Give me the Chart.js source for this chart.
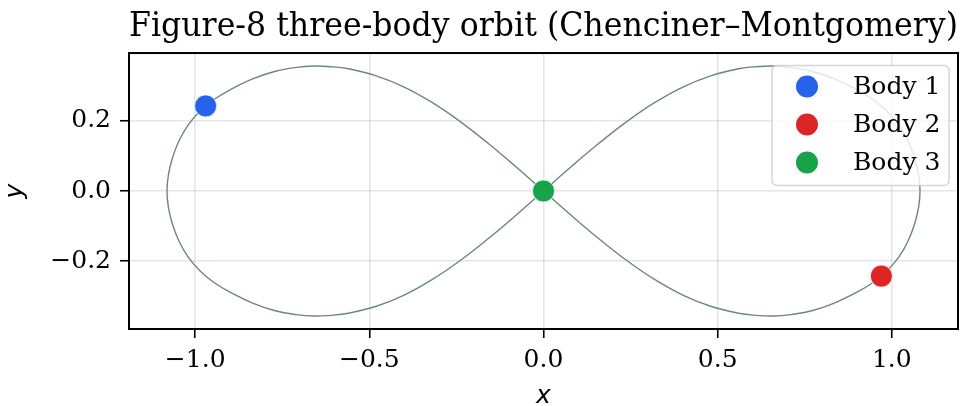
<!DOCTYPE html>
<html>
<head>
<meta charset="utf-8">
<script src="https://cdn.jsdelivr.net/npm/chart.js@4.4.1/dist/chart.umd.min.js"></script>
<style>
  html, body { margin: 0; padding: 0; background: #fff; }
  #wrap { width: 970px; height: 406px; }
</style>
</head>
<body>
<div id="wrap"><canvas id="c" width="970" height="406"></canvas></div>
<script>
// orbit path: upper-left, lower-left, upper-right, lower-right
const orbitX = [
  0, -0.08, -0.16, -0.24, -0.32, -0.40, -0.48, -0.56, -0.61, -0.66, -0.71, -0.77, -0.835, -0.90, -0.945, -0.985, -1.02, -1.047, -1.066, -1.077, -1.081,
  -1.077, -1.066, -1.047, -1.02, -0.985, -0.945, -0.90, -0.835, -0.77, -0.71, -0.66, -0.61, -0.56, -0.48, -0.40, -0.32, -0.24, -0.16, -0.08, 0,
  0.08, 0.16, 0.24, 0.32, 0.40, 0.48, 0.56, 0.61, 0.66, 0.71, 0.77, 0.835, 0.90, 0.945, 0.985, 1.02, 1.047, 1.066, 1.077, 1.081,
  1.077, 1.066, 1.047, 1.02, 0.985, 0.945, 0.90, 0.835, 0.77, 0.71, 0.66, 0.61, 0.56, 0.48, 0.40, 0.32, 0.24, 0.16, 0.08, 0
];
const orbitY = [
  0, 0.070, 0.137, 0.199, 0.253, 0.297, 0.329, 0.349, 0.355, 0.357, 0.353, 0.342, 0.320, 0.289, 0.262, 0.229, 0.189, 0.142, 0.092, 0.045, 0,
  -0.045, -0.092, -0.142, -0.189, -0.229, -0.262, -0.289, -0.320, -0.342, -0.353, -0.357, -0.355, -0.349, -0.329, -0.297, -0.253, -0.199, -0.137, -0.070, 0,
  0.070, 0.137, 0.199, 0.253, 0.297, 0.329, 0.349, 0.355, 0.357, 0.353, 0.342, 0.320, 0.289, 0.262, 0.229, 0.189, 0.142, 0.092, 0.045, 0,
  -0.045, -0.092, -0.142, -0.189, -0.229, -0.262, -0.289, -0.320, -0.342, -0.353, -0.357, -0.355, -0.349, -0.329, -0.297, -0.253, -0.199, -0.137, -0.070, 0
];

const bodyNames = ["Body 1", "Body 2", "Body 3"];
const bodyX = [-0.97, 0.97, 0.0];
const bodyY = [0.243, -0.243, 0.0];

const xTicks = [-1.0, -0.5, 0.0, 0.5, 1.0];
const yTicks = [-0.2, 0.0, 0.2];

const titleText = "Figure-8 three-body orbit (Chenciner\u2013Montgomery)";

const bodyColors = ["#2563eb", "#dc2626", "#16a34a"];
const orbitColor = "#6a8a74";
const serif = "'DejaVu Serif', serif";

function fmt(v) {
  const s = Math.abs(v).toFixed(1);
  return v < -1e-9 ? "\u2212" + s : s;
}

// 테두리 + 범례
const framePlugin = {
  id: "frame",
  afterDatasetsDraw(chart) {
    const ctx = chart.ctx;
    const bx = 772, by = 65.5, bw = 177, bh = 120;
    ctx.save();
    ctx.beginPath();
    ctx.roundRect(bx, by, bw, bh, 5);
    ctx.fillStyle = "rgba(255,255,255,0.8)";
    ctx.fill();
    ctx.strokeStyle = "rgba(204,204,204,0.8)";
    ctx.lineWidth = 1.5;
    ctx.stroke();
    ctx.font = "25px " + serif;
    ctx.textBaseline = "middle";
    ctx.textAlign = "left";
    bodyNames.forEach((name, i) => {
      const cy = by + 21 + i * 38;
      ctx.beginPath();
      ctx.arc(807, cy, 11, 0, Math.PI * 2);
      ctx.fillStyle = bodyColors[i];
      ctx.fill();
      ctx.fillStyle = "#000";
      ctx.fillText(name, 853, cy + 1);
    });
    ctx.restore();
  },
  afterDraw(chart) {
    const a = chart.chartArea;
    const ctx = chart.ctx;
    ctx.save();
    ctx.strokeStyle = "#000";
    ctx.lineWidth = 2;
    ctx.strokeRect(a.left, a.top, a.right - a.left, a.bottom - a.top);
    ctx.restore();
  },
};

const datasets = bodyNames.map((name, i) => ({
  label: name,
  data: [{ x: bodyX[i], y: bodyY[i] }],
  backgroundColor: bodyColors[i],
  borderColor: "rgba(255,255,255,0.7)",
  borderWidth: 1,
  pointRadius: 11,
  order: 0,
}));
datasets.push({
  label: "orbit",
  data: orbitX.map((x, i) => ({ x: x, y: orbitY[i] })),
  showLine: true,
  borderColor: orbitColor,
  borderWidth: 1.4,
  pointRadius: 0,
  tension: 0.4,
  fill: false,
  order: 1,
});

new Chart(document.getElementById("c").getContext("2d"), {
  type: "scatter",
  data: { datasets: datasets },
  options: {
    responsive: false,
    animation: false,
    devicePixelRatio: 1,
    layout: { padding: { left: 0, right: 8, top: 0, bottom: 0 } },
    plugins: {
      legend: { display: false },
      tooltip: { enabled: false },
      title: {
        display: true,
        text: titleText,
        fullSize: false,
        color: "#000",
        font: { family: serif, size: 32.7, weight: "normal", lineHeight: 1.2 },
        padding: { top: 7.5, bottom: 6.3 },
      },
    },
    scales: {
      x: {
        type: "linear",
        min: -1.19,
        max: 1.19,
        afterBuildTicks: (s) => { s.ticks = xTicks.map((v) => ({ value: v })); },
        afterFit: (s) => { s.height = 77; },
        ticks: {
          color: "#000",
          padding: 7,
          font: { family: serif, size: 25 },
          callback: (v) => fmt(v),
          maxRotation: 0,
        },
        grid: {
          color: "rgba(0,0,0,0.1)",
          lineWidth: 1.5,
          tickColor: "#000",
          tickWidth: 1.6,
          tickLength: 9,
        },
        border: { display: false },
        title: {
          display: true,
          text: "x",
          color: "#000",
          font: { family: "'DejaVu Sans', sans-serif", size: 25, style: "italic", lineHeight: 0.8 },
          padding: { top: 0, bottom: 0 },
        },
      },
      y: {
        type: "linear",
        min: -0.394,
        max: 0.394,
        afterBuildTicks: (s) => { s.ticks = yTicks.map((v) => ({ value: v })); },
        afterFit: (s) => { s.width = 129; },
        ticks: {
          color: "#000",
          padding: 9,
          font: { family: serif, size: 25 },
          callback: (v) => fmt(v),
        },
        grid: {
          color: "rgba(0,0,0,0.1)",
          lineWidth: 1.5,
          tickColor: "#000",
          tickWidth: 1.6,
          tickLength: 9,
        },
        border: { display: false },
        title: {
          display: true,
          text: "y",
          color: "#000",
          font: { family: "'DejaVu Sans', sans-serif", size: 25, style: "italic", lineHeight: 1.2 },
          padding: { top: 0, bottom: 0 },
        },
      },
    },
  },
  plugins: [framePlugin],
});
</script>
</body>
</html>
